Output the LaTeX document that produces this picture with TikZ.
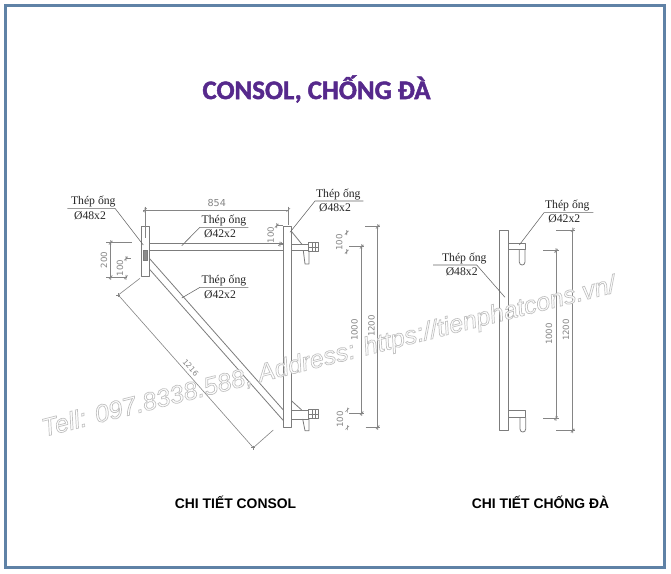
\documentclass[tikz,border=0pt]{standalone}
\usepackage{fontspec}
\setmainfont{Liberation Serif}
\newfontfamily\capfont{Liberation Sans}
\newfontfamily\dimfont{DejaVu Sans}
\newfontfamily\titlefont{Carlito}
\definecolor{frameblue}{HTML}{5F82A6}
\definecolor{steel}{HTML}{7C7C7C}
\definecolor{dimgray}{HTML}{858585}
\definecolor{titlepurple}{HTML}{56298C}
\tikzset{
  part/.style={draw=steel,line width=0.8pt,line join=round},
  dimline/.style={draw=dimgray,line width=0.6pt},
  leader/.style={draw=black!60,line width=0.55pt},
  dimtext/.style={text=dimgray,font=\dimfont\fontsize{8.6}{9}\selectfont,inner sep=0pt},
  lbl/.style={text=black!85,font=\fontsize{11.7}{13}\selectfont,inner sep=0pt},
  caption/.style={text=black,font=\capfont\bfseries\fontsize{13.9}{15}\selectfont,inner sep=0pt},
}
\newcommand{\dtick}[2]{\draw[dimline] (#1-1.8,#2+1.8) -- (#1+1.8,#2-1.8) (#1,#2-2.5) -- (#1,#2+2.5);}
\begin{document}
\begin{tikzpicture}[x=1pt,y=-1pt]
\useasboundingbox (0,0) rectangle (671,573);
\fill[white] (0,0) rectangle (671,573);
\draw[frameblue,line width=3.2pt] (5.6,5.6) rectangle (664.6,567.2);

% title
\node[text=titlepurple,font=\titlefont\bfseries\fontsize{26.8}{29}\selectfont,inner sep=0pt] (title) at (316.5,89) {\special{pdf:code 2 Tr 0.45 w 0.337 0.161 0.549 RG}CONSOL, CHỐNG ĐÀ\special{pdf:code 0 Tr}};

% consol: left plate
\draw[part] (141,226) rectangle (149.3,276.7);
\draw[draw=steel,fill=black!45,line width=0.5pt] (143.3,250) rectangle (147.3,260);
% consol: top tube
\draw[part] (149.3,243.3) -- (283.3,243.3) (149.3,250) -- (283.3,250);
% consol: diagonal tube
\draw[part] (149.3,258.3) -- (283.3,410) (149.3,269) -- (283.3,420.5);
% consol: column
\draw[part] (283.3,226.7) rectangle (291.7,427.3);
% consol: upper clamp
\draw[part] (291.7,244) rectangle (308.3,250.5);
\draw[part] (308.3,242.3) rectangle (318.3,251.7);
\draw[part] (312.5,242.3) -- (312.5,251.7) (315,242.3) -- (315,251.7) (308.3,247) -- (318.3,247);
\draw[part] (291.7,231.7) -- (301.7,244);
\draw[part] (303.3,250.5) -- (305,264) -- (309,264) -- (309,250.5);
% consol: lower clamp
\draw[part] (291.7,410) rectangle (308.3,419);
\draw[part] (308.3,409.3) rectangle (318.3,418.8);
\draw[part] (312.5,409.3) -- (312.5,418.8) (315,409.3) -- (315,418.8) (308.3,414) -- (318.3,414);
\draw[part] (291.7,401) -- (301.7,410);
\draw[part] (302.7,419) -- (305,430.7) -- (309,430.7) -- (309,419);

% consol dimensions
\draw[dimline] (143.3,210) -- (288.3,210) (145,206.5) -- (145,238) (288.3,206.5) -- (288.3,225);
\dtick{145}{210}\dtick{288.3}{210}
\node[dimtext,font=\dimfont\fontsize{9.6}{10}\selectfont] (d854) at (216.7,203.5) {854};
\draw[dimline] (110.7,242.7) -- (110.7,277.3) (106,242.7) -- (131.7,242.7) (106,277.3) -- (126.7,277.3);
\dtick{110.7}{242.7}\dtick{110.7}{277.3}
\node[dimtext,rotate=90] (d200) at (104,260) {200};
\draw[dimline] (126,258.5) -- (131,258.5);
\dtick{126}{258.5}\dtick{126}{277.3}
\node[dimtext,rotate=90] (d100a) at (120,268) {100};
\draw[dimline] (276.7,225.7) -- (283,225.7) (280,244) -- (283,244);
\dtick{276.7}{225.7}\dtick{280}{244}
\node[dimtext,rotate=90] (d100b) at (270.7,235) {100};
\dtick{346.7}{232.7}\dtick{346.7}{251.7}
\node[dimtext,rotate=90] (d100c) at (339.3,242.3) {100};
\dtick{347.3}{410}\dtick{347.3}{427.7}
\node[dimtext,rotate=90] (d100d) at (340,419.3) {100};
\draw[dimline] (361.7,246.7) -- (361.7,413.3) (349.3,246.7) -- (364,246.7) (349.3,413.3) -- (364,413.3);
\dtick{361.7}{246.7}\dtick{361.7}{413.3}
\node[dimtext,rotate=90] (d1000a) at (354.5,330) {1000};
\draw[dimline] (377.7,226.7) -- (377.7,427.3) (365,226.7) -- (380,226.7) (365.7,427.3) -- (380,427.3);
\dtick{377.7}{226.7}\dtick{377.7}{427.3}
\node[dimtext,rotate=90] (d1200a) at (371.5,326) {1200};
\draw[dimline] (118.3,295) -- (253.3,447.7) (118.3,295) -- (140,278.3) (253.3,447.7) -- (273.3,430);
\draw[dimline] (116.3,295) -- (120.3,295) (118.3,293) -- (118.3,297) (251.3,447.7) -- (255.3,447.7) (253.3,445.7) -- (253.3,449.7);
\node[dimtext,rotate=-48.5,font=\dimfont\fontsize{7.6}{8}\selectfont] (d1216) at (190.7,367.7) {1216};

% consol leaders
\draw[leader] (67.3,208.3) -- (115,208.3) -- (143.3,245);
\node[lbl] (l1a) at (93.3,202) {Thép ống};
\node[lbl] (l1b) at (90,216) {Ø48x2};
\draw[leader] (181.7,245.7) -- (200,227.3) -- (248.3,227.3);
\node[lbl] (l2a) at (224,220.7) {Thép ống};
\node[lbl] (l2b) at (220,234) {Ø42x2};
\draw[leader] (181.7,298) -- (200,287.3) -- (248.3,287.3);
\node[lbl] (l3a) at (224,281) {Thép ống};
\node[lbl] (l3b) at (220,295) {Ø42x2};
\draw[leader] (290,232.3) -- (315,201) -- (363.3,201);
\node[lbl] (l4a) at (338.3,194.5) {Thép ống};
\node[lbl] (l4b) at (335,208) {Ø48x2};

% chong da
\draw[part] (499.3,230.7) rectangle (508.3,430.7);
\draw[part] (508.3,243.3) -- (525,243.3) -- (525,249) -- (508.3,249);
\draw[part] (519.3,249) -- (519.3,262) .. controls (519.3,266) and (525,266) .. (525,262) -- (525,249);
\draw[part] (508.3,410.7) rectangle (525.7,417.7);
\draw[part] (520,417.7) -- (520,429) .. controls (520,433) and (525.7,433) .. (525.7,429) -- (525.7,417.7);
\draw[dimline] (556,250.7) -- (556,418.3) (543.3,250.7) -- (558.5,250.7) (543.3,418.3) -- (558.5,418.3);
\dtick{556}{250.7}\dtick{556}{418.3}
\node[dimtext,rotate=90] (d1000b) at (549,334) {1000};
\draw[dimline] (572.7,230) -- (572.7,430.7) (556,230) -- (575.2,230) (556,430.7) -- (575.2,430.7);
\dtick{572.7}{230}\dtick{572.7}{430.7}
\node[dimtext,rotate=90] (d1200b) at (566,330) {1200};
\draw[leader] (519.3,245) -- (544,212.7) -- (593.3,212.7);
\node[lbl] (l5a) at (567.3,206) {Thép ống};
\node[lbl] (l5b) at (564.3,219) {Ø42x2};
\draw[leader] (433,265) -- (476.7,265) -- (505,297.3);
\node[lbl] (l6a) at (464.3,259) {Thép ống};
\node[lbl] (l6b) at (461.7,272) {Ø48x2};

% captions
\node[caption] (c1) at (235.5,502.5) {CHI TIẾT CONSOL};
\node[caption] (c2) at (540.5,502.5) {CHI TIẾT CHỐNG ĐÀ};

% watermark
\node[rotate=14.2,inner sep=0pt,font=\capfont\itshape\fontsize{25.2}{27}\selectfont] (wm) at (329,358)
  {\special{pdf:code 2 Tr 0.7 w 0.76 G 1 g}Tell: 097.8338.588, Address: https://tienphatcons.vn/\special{pdf:code 0 Tr 0 g 0 G}};
\end{tikzpicture}
\end{document}
